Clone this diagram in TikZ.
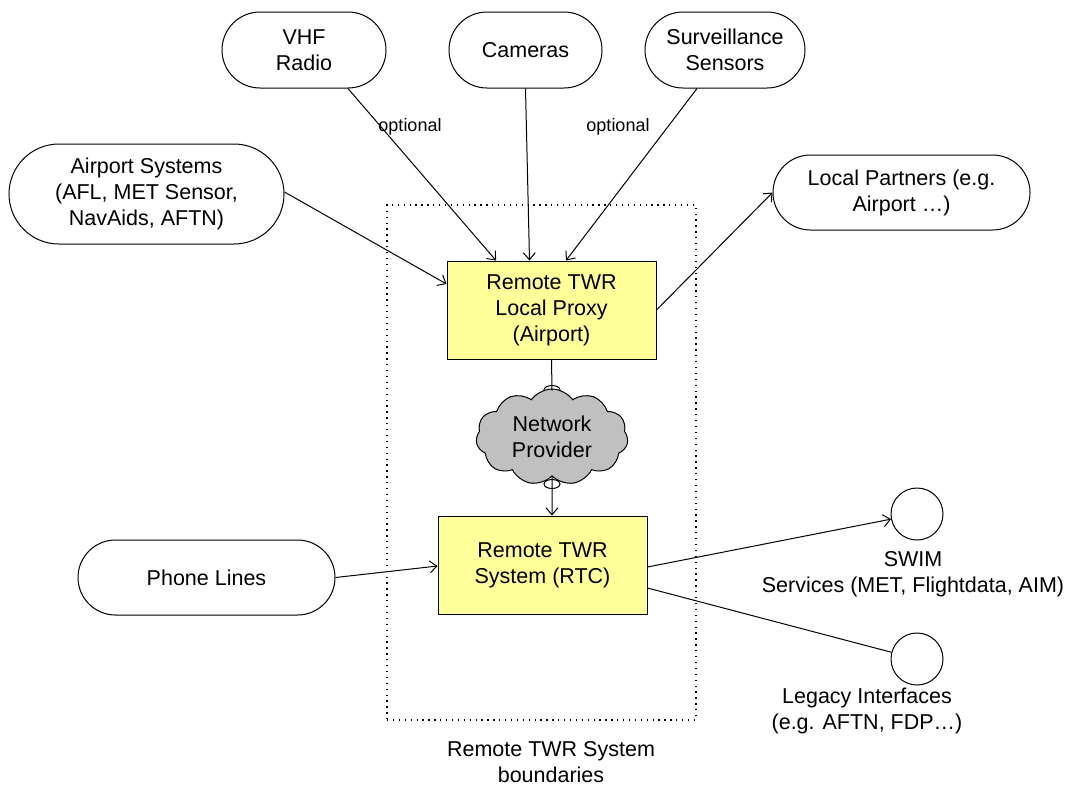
\documentclass[tikz,border=0pt]{standalone}
\usepackage{fontspec}
\setmainfont{Liberation Sans}
\usetikzlibrary{shapes.misc,shapes.symbols,arrows.meta,calc}
\definecolor{boxyellow}{HTML}{FFFF99}
\definecolor{cloudgray}{HTML}{C0C0C0}
\begin{document}
\begin{tikzpicture}[x=1pt,y=-1pt,
  every node/.style={font=\fontsize{21.5}{26}\selectfont, align=center, inner sep=0pt},
  pill/.style={draw, rounded rectangle, line width=1pt},
  comp/.style={draw, line width=1pt, fill=boxyellow, minimum width=209pt, minimum height=98pt},
  iface/.style={draw, circle, line width=1pt, minimum size=52pt},
  link/.style={line width=1pt},
  arr/.style={link, -{Straight Barb[length=7pt,width=12pt]}},
  note/.style={font=\fontsize{18}{22}\selectfont},
  boundary/.style={draw, line width=1.3pt, dash pattern=on 1.3pt off 4.6pt, minimum width=309pt, minimum height=515pt}
]
\useasboundingbox[fill=white] (0,0) rectangle (1070,785);

% system boundary
\node[boundary] (bound) at (541.5,462.5) {};
\node (bndlbl) at (551,762) {Remote TWR System\\boundaries};

% external sources
\node[pill, minimum width=164pt, minimum height=76pt] (vhf) at (304,50) {VHF\\Radio};
\node[pill, minimum width=153pt, minimum height=76pt] (cam) at (525.5,50) {Cameras};
\node[pill, minimum width=160pt, minimum height=76pt] (surv) at (725,50) {Surveillance\\Sensors};
\node[pill, minimum width=275pt, minimum height=100pt] (apsys) at (146.5,194) {Airport Systems\\(AFL, MET Sensor,\\NavAids, AFTN)};
\node[pill, minimum width=257pt, minimum height=75pt] (partners) at (901.5,192.5) {Local Partners (e.g.\\Airport …)};
\node[pill, minimum width=257pt, minimum height=75pt] (phone) at (206.5,577.5) {Phone Lines};

% core components
\node[comp] (proxy) at (551.5,310) {Remote TWR\\Local Proxy\\(Airport)};
\node[comp] (rtc) at (542.5,565) {Remote TWR\\System (RTC)};

% network connection glyphs and cloud
\draw[link, fill=white] (552,390) ellipse (8pt and 4.5pt);
\draw[link, fill=white] (552,484) ellipse (8pt and 4.5pt);
\node[cloud, draw, line width=1pt, fill=cloudgray, cloud puffs=11, cloud puff arc=110, aspect=1.6,
      minimum width=152pt, minimum height=96pt] (net) at (552,437) {Network\\Provider};

% outbound interfaces
\node[iface] (swim) at (917,514) {};
\node[iface] (legacy) at (917,659) {};
\node (swimlbl) at (913,574) {SWIM\\Services (MET, Flightdata, AIM)};
\node (leglbl) at (867,711) {Legacy Interfaces\\(e.g. AFTN, FDP…)};

% connectors
\draw[arr] ([xshift=44pt]vhf.south) -- ([xshift=-55.5pt]proxy.north);
\draw[arr] (cam.south) -- ([xshift=-22pt]proxy.north);
\draw[arr] ([xshift=-28pt]surv.south) -- ([xshift=14.5pt]proxy.north);
\draw[arr] ([yshift=2pt]apsys.east) -- ([yshift=26pt]proxy.west);
\draw[arr] (proxy.east) -- (partners.west);
\draw[link] (proxy.south) -- ([yshift=-2pt]net.north);
\draw[arr] (net.south) -- ([xshift=9.5pt]rtc.north);
\draw[arr] (phone.east) -- ([yshift=-1pt]rtc.west);
\draw[arr] ([yshift=-2pt]rtc.east) -- (swim);
\draw[link] ([yshift=-23pt]rtc.east) -- (legacy);

\node[note] (opt1) at (410,127) {optional};
\node[note] (opt2) at (618,127) {optional};
\end{tikzpicture}
\end{document}
